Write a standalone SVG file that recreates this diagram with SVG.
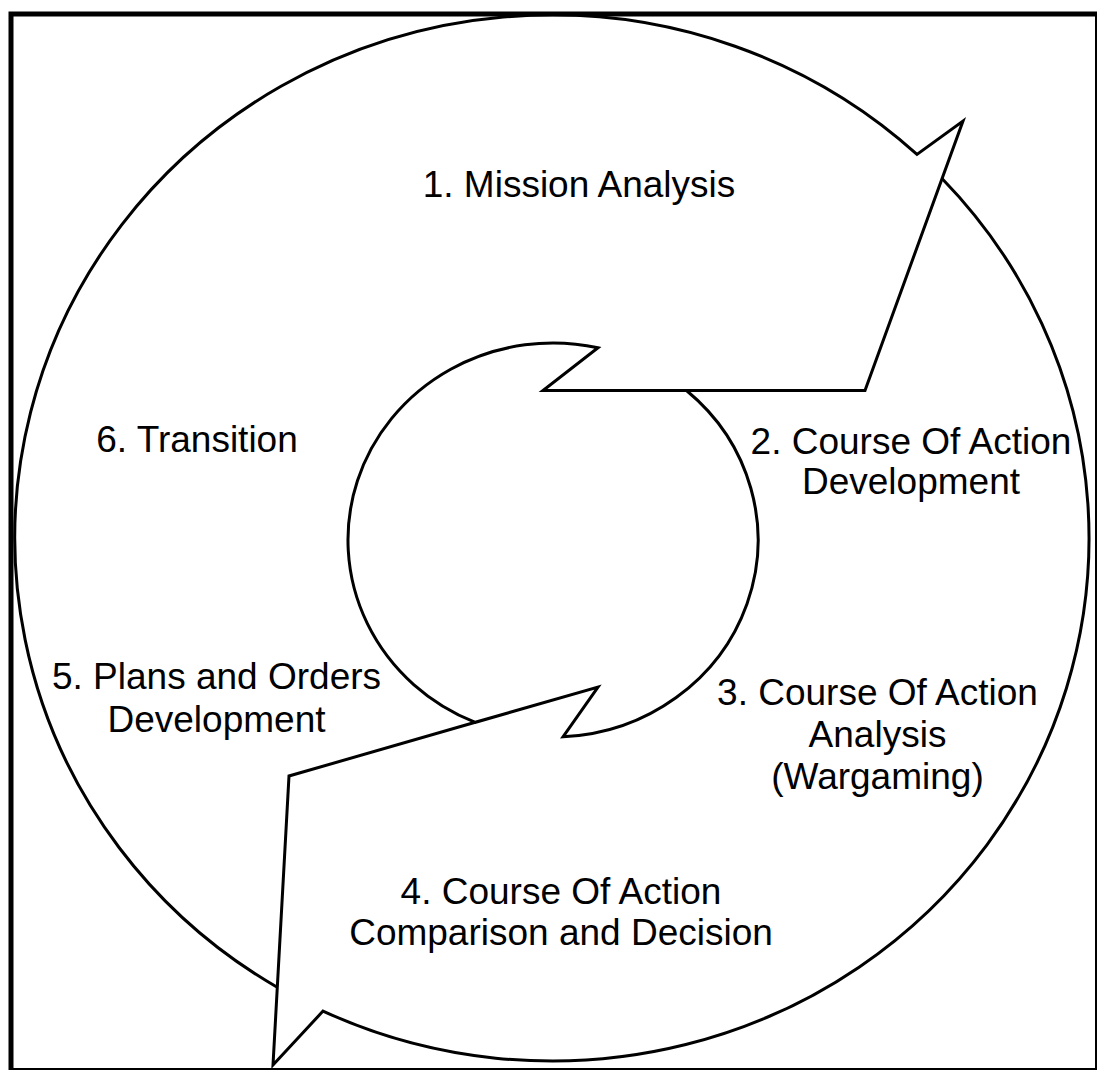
<svg xmlns="http://www.w3.org/2000/svg" width="1097" height="1070" viewBox="0 0 1097 1070">
<style>
.ln{fill:none;stroke:#000;stroke-width:3;stroke-linejoin:miter;stroke-linecap:butt}
.lbl{font-family:"Liberation Sans",Arial,sans-serif;font-size:37px;fill:#000;text-anchor:middle}
</style>
<rect width="1097" height="1070" fill="#fff"/>
<rect x="11" y="14" width="1086.5" height="1056.5" fill="none" stroke="#000" stroke-width="5"/>
<g id="cycle">
<path class="ln" d="M 277.2,987.3 A 537 523 0 1 1 917,154.4 L 963,121 L 865,390.5 L 543,390.5 L 598,347.8 A 205 197 0 0 0 475.3,722.3 L 598,687 L 563,736.8 A 205 197 0 0 0 686.5,390.5"/>
<path class="ln" d="M 475.3,722.3 L 289,776 L 273,1065 L 323,1011.1 A 537 523 0 0 0 942,178.5"/>
</g>
<g id="labels">
<text id="step1" class="lbl" x="579" y="197">1. Mission Analysis</text>
<text id="step2" class="lbl" x="911" y="454">2. Course Of Action<tspan x="911" y="493.5">Development</tspan></text>
<text id="step3" class="lbl" x="877.5" y="705">3. Course Of Action<tspan x="877.5" y="747">Analysis</tspan><tspan x="877.5" y="788.5">(Wargaming)</tspan></text>
<text id="step4" class="lbl" x="561" y="903.5">4. Course Of Action<tspan x="561" y="945">Comparison and Decision</tspan></text>
<text id="step5" class="lbl" x="216.5" y="688.5">5. Plans and Orders<tspan x="216.5" y="731.5">Development</tspan></text>
<text id="step6" class="lbl" x="197" y="452">6. Transition</text>
</g>
</svg>
